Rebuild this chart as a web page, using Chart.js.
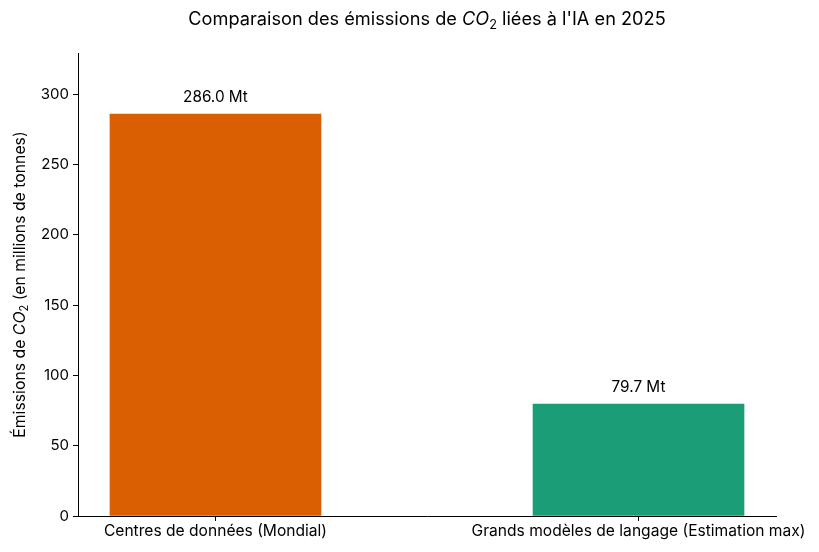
<!DOCTYPE html>
<html>
<head>
<meta charset="utf-8">
<script src="https://cdn.jsdelivr.net/npm/chart.js@4"></script>
<style>
html,body{margin:0;padding:0;background:#fff;}
#wrap{width:819px;height:552px;position:relative;}
</style>
</head>
<body>
<div id="wrap"><canvas id="c" width="819" height="552"></canvas></div>
<script>
const categories = ['Centres de données (Mondial)', 'Grands modèles de langage (Estimation max)'];
const values = [286.0, 79.7];
const colors = ['#d95f02', '#1b9e77'];
const yTicks = [0, 50, 100, 150, 200, 250, 300];
const valueLabels = ['286.0 Mt', '79.7 Mt'];

const FONT = 'Inter, "Noto Sans", sans-serif';

function drawRich(ctx, parts, x, y, size) {
  let widths = parts.map(p => {
    const s = p.sub ? size * 0.7 : size;
    ctx.font = (p.italic ? 'italic ' : '') + s + 'px ' + FONT;
    return ctx.measureText(p.t).width;
  });
  const total = widths.reduce((a, b) => a + b, 0);
  let cx = x - total / 2;
  ctx.textBaseline = 'middle';
  ctx.textAlign = 'left';
  parts.forEach((p, i) => {
    const s = p.sub ? size * 0.7 : size;
    ctx.font = (p.italic ? 'italic ' : '') + s + 'px ' + FONT;
    ctx.fillText(p.t, cx, y + (p.sub ? size * 0.3 : 0));
    cx += widths[i];
  });
}

const textPlugin = {
  id: 'textPlugin',
  afterDraw(chart) {
    const ctx = chart.ctx;
    ctx.save();
    ctx.fillStyle = '#000';
    drawRich(ctx, [
      {t: 'Comparaison des émissions de '},
      {t: 'CO', italic: true},
      {t: '2', sub: true},
      {t: ' liées à l\'IA en 2025'}
    ], 427, 20, 18.2);
    const area = chart.chartArea;
    ctx.save();
    ctx.translate(20, (area.top + area.bottom) / 2);
    ctx.rotate(-Math.PI / 2);
    drawRich(ctx, [
      {t: 'Émissions de '},
      {t: 'CO', italic: true},
      {t: '2', sub: true},
      {t: ' (en millions de tonnes)'}
    ], 0, 0, 15.8);
    ctx.restore();
    const meta = chart.getDatasetMeta(0);
    ctx.font = '15.3px ' + FONT;
    ctx.textAlign = 'center';
    ctx.textBaseline = 'middle';
    meta.data.forEach((bar, i) => {
      ctx.fillText(valueLabels[i], bar.x, bar.y - 17);
    });
    ctx.restore();
  }
};

new Chart(document.getElementById('c'), {
  type: 'bar',
  data: {
    datasets: [{
      data: values.map((v, i) => ({x: i, y: v})),
      backgroundColor: colors,
      barThickness: 211,
      borderWidth: 0
    }]
  },
  options: {
    responsive: false,
    animation: false,
    layout: {padding: {left: 0, right: 43, top: 53, bottom: 0}},
    plugins: {legend: {display: false}, tooltip: {enabled: false}, title: {display: false}},
    scales: {
      x: {
        type: 'linear',
        min: -0.325,
        max: 1.325,
        offset: false,
        afterBuildTicks: s => { s.ticks = categories.map((c, i) => ({value: i})); },
        afterFit: s => { s.height = 36; },
        ticks: {
          callback: v => categories[v] ?? '',
          color: '#000',
          font: {family: FONT, size: 15.6},
          padding: 1,
          maxRotation: 0,
          autoSkip: false
        },
        grid: {display: true, offset: false, drawOnChartArea: false, drawTicks: true, tickLength: 5, tickColor: '#000'},
        border: {color: '#000', width: 1}
      },
      y: {
        min: 0,
        max: 329.5,
        afterBuildTicks: s => { s.ticks = yTicks.map(v => ({value: v})); },
        afterFit: s => { s.width = 78; },
        ticks: {
          color: '#000',
          font: {family: FONT, size: 15},
          padding: 4
        },
        grid: {display: true, drawOnChartArea: false, drawTicks: true, tickLength: 5, tickColor: '#000'},
        border: {color: '#000', width: 1}
      }
    }
  },
  plugins: [textPlugin]
});
</script>
</body>
</html>
